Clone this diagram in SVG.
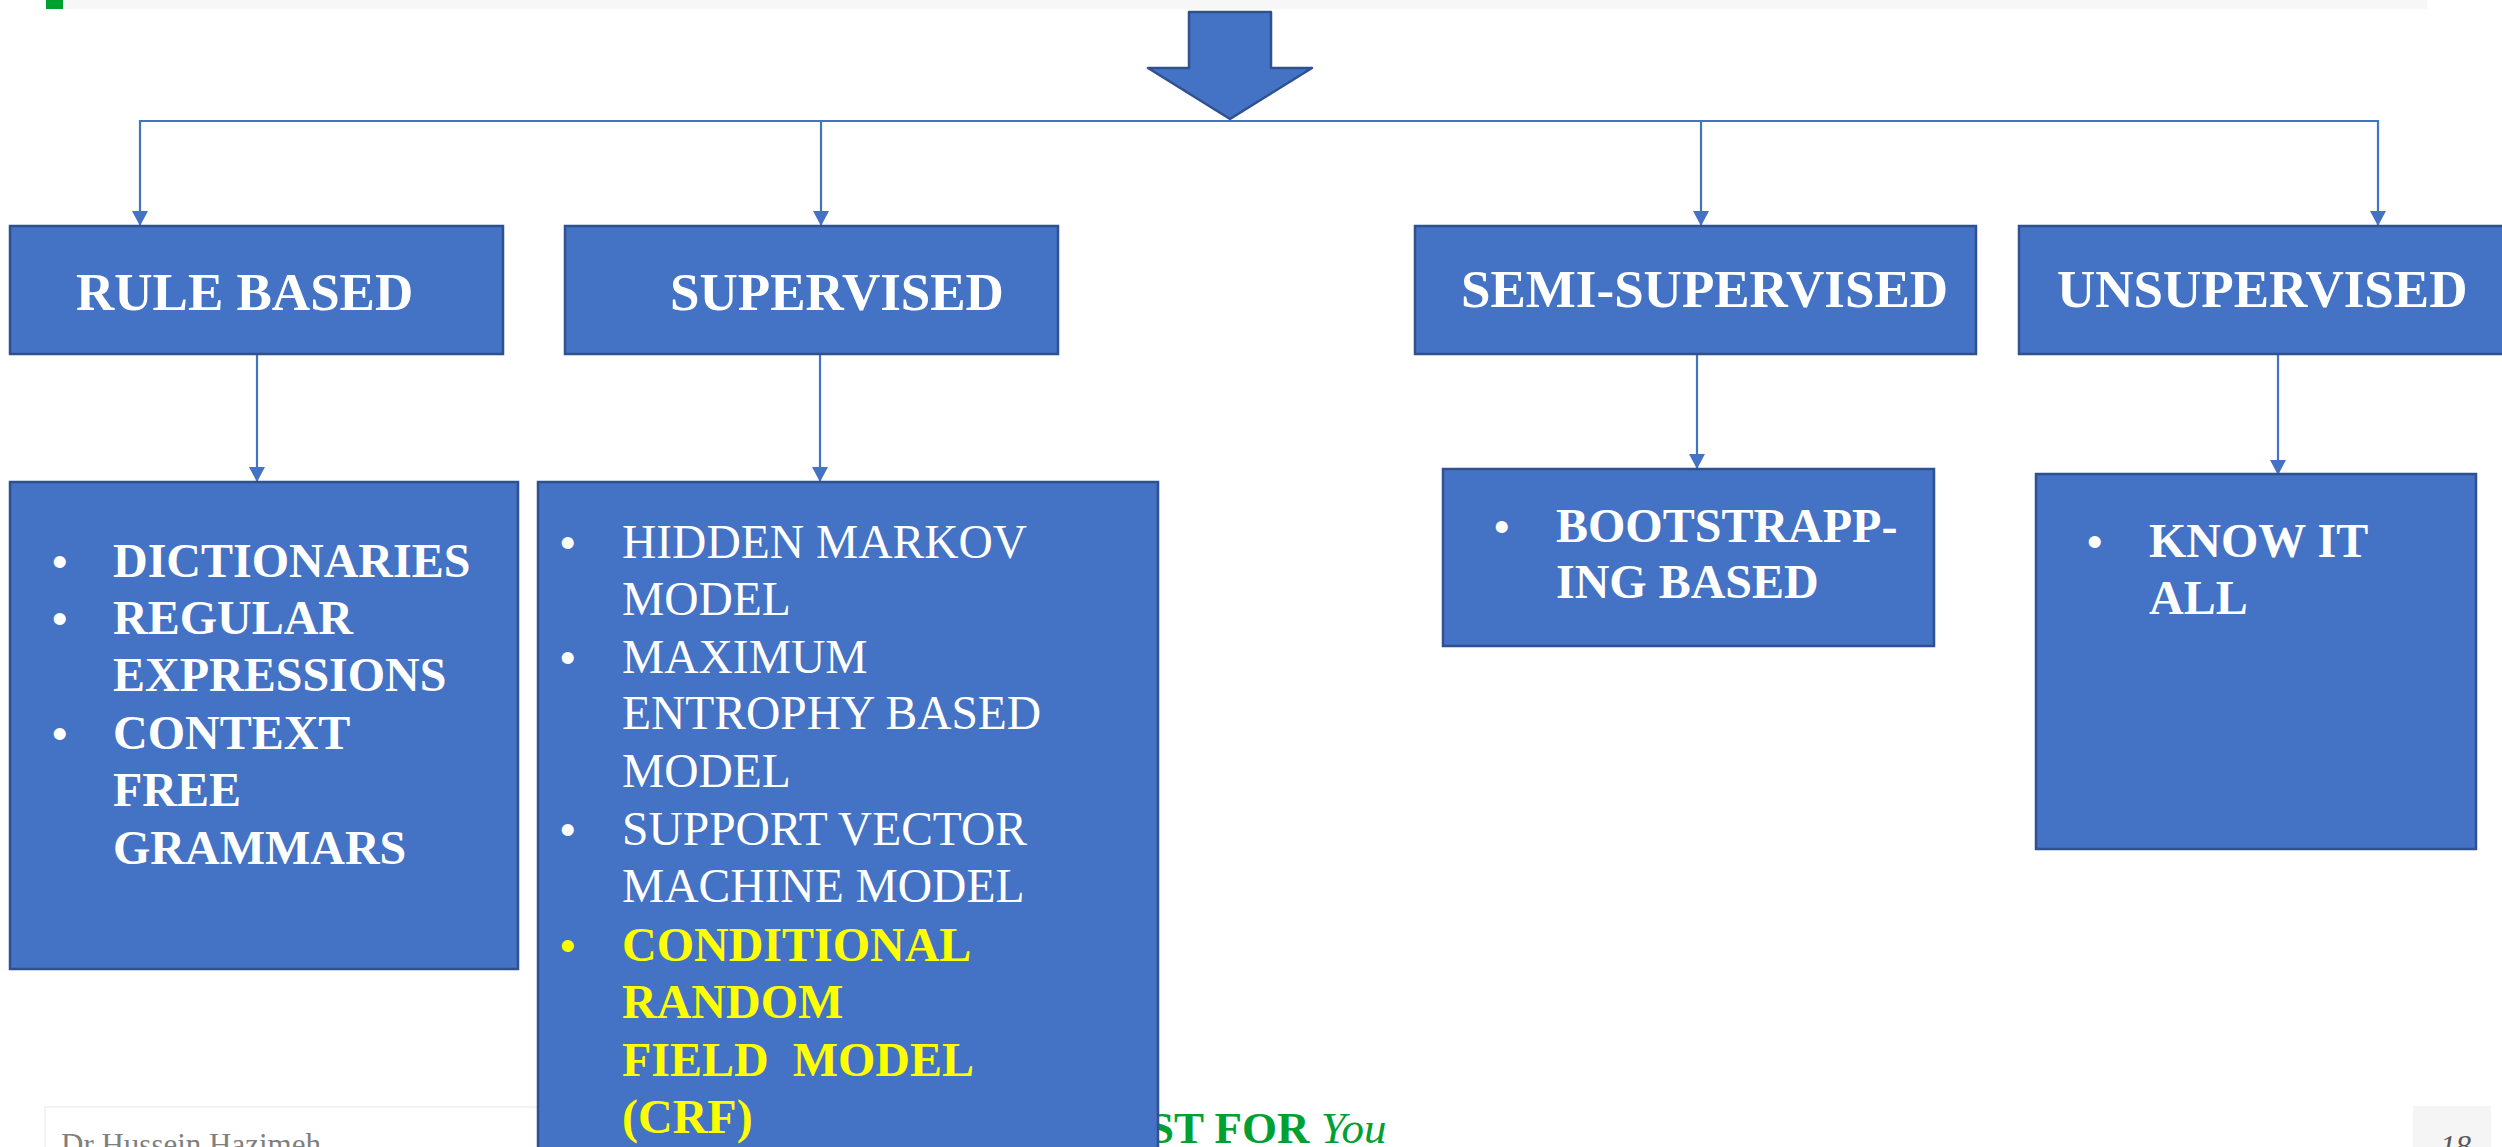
<svg xmlns="http://www.w3.org/2000/svg" width="2502" height="1147" viewBox="0 0 2502 1147">
<defs>
<marker id="ah" markerUnits="userSpaceOnUse" markerWidth="15" markerHeight="16" refX="15" refY="8" orient="auto" viewBox="0 0 15 16">
<path d="M0,0 L15,8 L0,16 Z" fill="#4472C4"/>
</marker>
<style>
.box{fill:#4472C4;stroke:#2F528F;stroke-width:2.5}
.conn{stroke:#4472C4;stroke-width:2.2;fill:none}
.hd{font-family:"Liberation Serif","Times New Roman",serif;font-weight:bold;font-size:53px;fill:#FFFFFF}
.lb{font-family:"Liberation Serif","Times New Roman",serif;font-weight:bold;font-size:48px;fill:#FFFFFF}
.lr{font-family:"Liberation Serif","Times New Roman",serif;font-size:47.5px;fill:#FFFFFF}
.bul{font-family:"Liberation Sans",Arial,sans-serif;font-size:44px;fill:#FFFFFF}
.yl{fill:#FFFF00}
</style>
</defs>
<rect width="2502" height="1147" fill="#FFFFFF"/>
<!-- top bar -->
<rect x="63" y="0" width="2364" height="9" fill="#F7F7F7"/>
<rect x="46" y="0" width="17" height="9" fill="#00A030"/>
<!-- footer -->
<g id="footer">
<rect x="45" y="1107" width="520" height="50" fill="#FFFFFF" stroke="#EFEFEF" stroke-width="1.5"/>
<text x="61" y="1155" font-family="'Liberation Serif','Times New Roman',serif" font-size="31" fill="#7F7F7F">Dr Hussein Hazimeh</text>
<text x="1149" y="1143" font-family="'Liberation Serif','Times New Roman',serif" font-size="45" fill="#00A032"><tspan font-weight="bold">ST FOR </tspan><tspan font-style="italic">You</tspan></text>
<rect x="2413" y="1106" width="78" height="50" fill="#F5F5F5"/>
<text x="2440" y="1157" font-family="'Liberation Serif','Times New Roman',serif" font-size="31" font-style="italic" fill="#595959">18</text>
</g>
<!-- big arrow -->
<g id="bigarrow">
<path d="M1189,12 L1271,12 L1271,68 L1312,68 L1230,119 L1148,68 L1189,68 Z" fill="#4472C4" stroke="#2F528F" stroke-width="2.5" stroke-linejoin="round"/>
</g>
<!-- connectors -->
<g id="connectors">
<path class="conn" d="M140,121 L2379,121"/>
<path class="conn" d="M140,120 L140,226" marker-end="url(#ah)"/>
<path class="conn" d="M821,121 L821,226" marker-end="url(#ah)"/>
<path class="conn" d="M1701,121 L1701,226" marker-end="url(#ah)"/>
<path class="conn" d="M2378,120 L2378,226" marker-end="url(#ah)"/>
<path class="conn" d="M257,354 L257,482" marker-end="url(#ah)"/>
<path class="conn" d="M820,354 L820,482" marker-end="url(#ah)"/>
<path class="conn" d="M1697,354 L1697,469" marker-end="url(#ah)"/>
<path class="conn" d="M2278,354 L2278,475" marker-end="url(#ah)"/>
</g>
<!-- header nodes -->
<g id="rule-based">
<rect class="box" x="10" y="226" width="493" height="128"/>
<text class="hd" x="76" y="310">RULE BASED</text>
</g>
<g id="supervised">
<rect class="box" x="565" y="226" width="493" height="128"/>
<text class="hd" x="670" y="310">SUPERVISED</text>
</g>
<g id="semi-supervised">
<rect class="box" x="1415" y="226" width="561" height="128"/>
<text class="hd" x="1461" y="307">SEMI-SUPERVISED</text>
</g>
<g id="unsupervised">
<rect class="box" x="2019" y="226" width="500" height="128"/>
<text class="hd" x="2057" y="307">UNSUPERVISED</text>
</g>
<!-- list nodes -->
<g id="rule-list">
<rect class="box" x="10" y="482" width="508" height="487"/>
<text class="bul" x="52" y="577">•</text>
<text class="lb" x="113" y="577">DICTIONARIES</text>
<text class="bul" x="52" y="634">•</text>
<text class="lb" x="113" y="634">REGULAR</text>
<text class="lb" x="113" y="691">EXPRESSIONS</text>
<text class="bul" x="52" y="749">•</text>
<text class="lb" x="113" y="749">CONTEXT</text>
<text class="lb" x="113" y="806">FREE</text>
<text class="lb" x="113" y="864">GRAMMARS</text>
</g>
<g id="supervised-list">
<rect class="box" x="538" y="482" width="620" height="690"/>
<text class="bul" x="560" y="558">•</text>
<text class="lr" x="622" y="558">HIDDEN MARKOV</text>
<text class="lr" x="622" y="615">MODEL</text>
<text class="bul" x="560" y="673">•</text>
<text class="lr" x="622" y="673">MAXIMUM</text>
<text class="lr" x="622" y="729">ENTROPHY BASED</text>
<text class="lr" x="622" y="787">MODEL</text>
<text class="bul" x="560" y="845">•</text>
<text class="lr" x="622" y="845">SUPPORT VECTOR</text>
<text class="lr" x="622" y="902">MACHINE MODEL</text>
<text class="bul yl" x="560" y="961">•</text>
<text class="lb yl" x="622" y="961">CONDITIONAL</text>
<text class="lb yl" x="622" y="1018">RANDOM</text>
<text class="lb yl" x="622" y="1076" xml:space="preserve">FIELD  MODEL</text>
<text class="lb yl" x="622" y="1133">(CRF)</text>
</g>
<g id="semi-list">
<rect class="box" x="1443" y="469" width="491" height="177"/>
<text class="bul" x="1494" y="542">•</text>
<text class="lb" x="1556" y="542">BOOTSTRAPP-</text>
<text class="lb" x="1556" y="598">ING BASED</text>
</g>
<g id="unsupervised-list">
<rect class="box" x="2036" y="474" width="440" height="375"/>
<text class="bul" x="2087" y="557">•</text>
<text class="lb" x="2149" y="557">KNOW IT</text>
<text class="lb" x="2149" y="614">ALL</text>
</g>
</svg>
